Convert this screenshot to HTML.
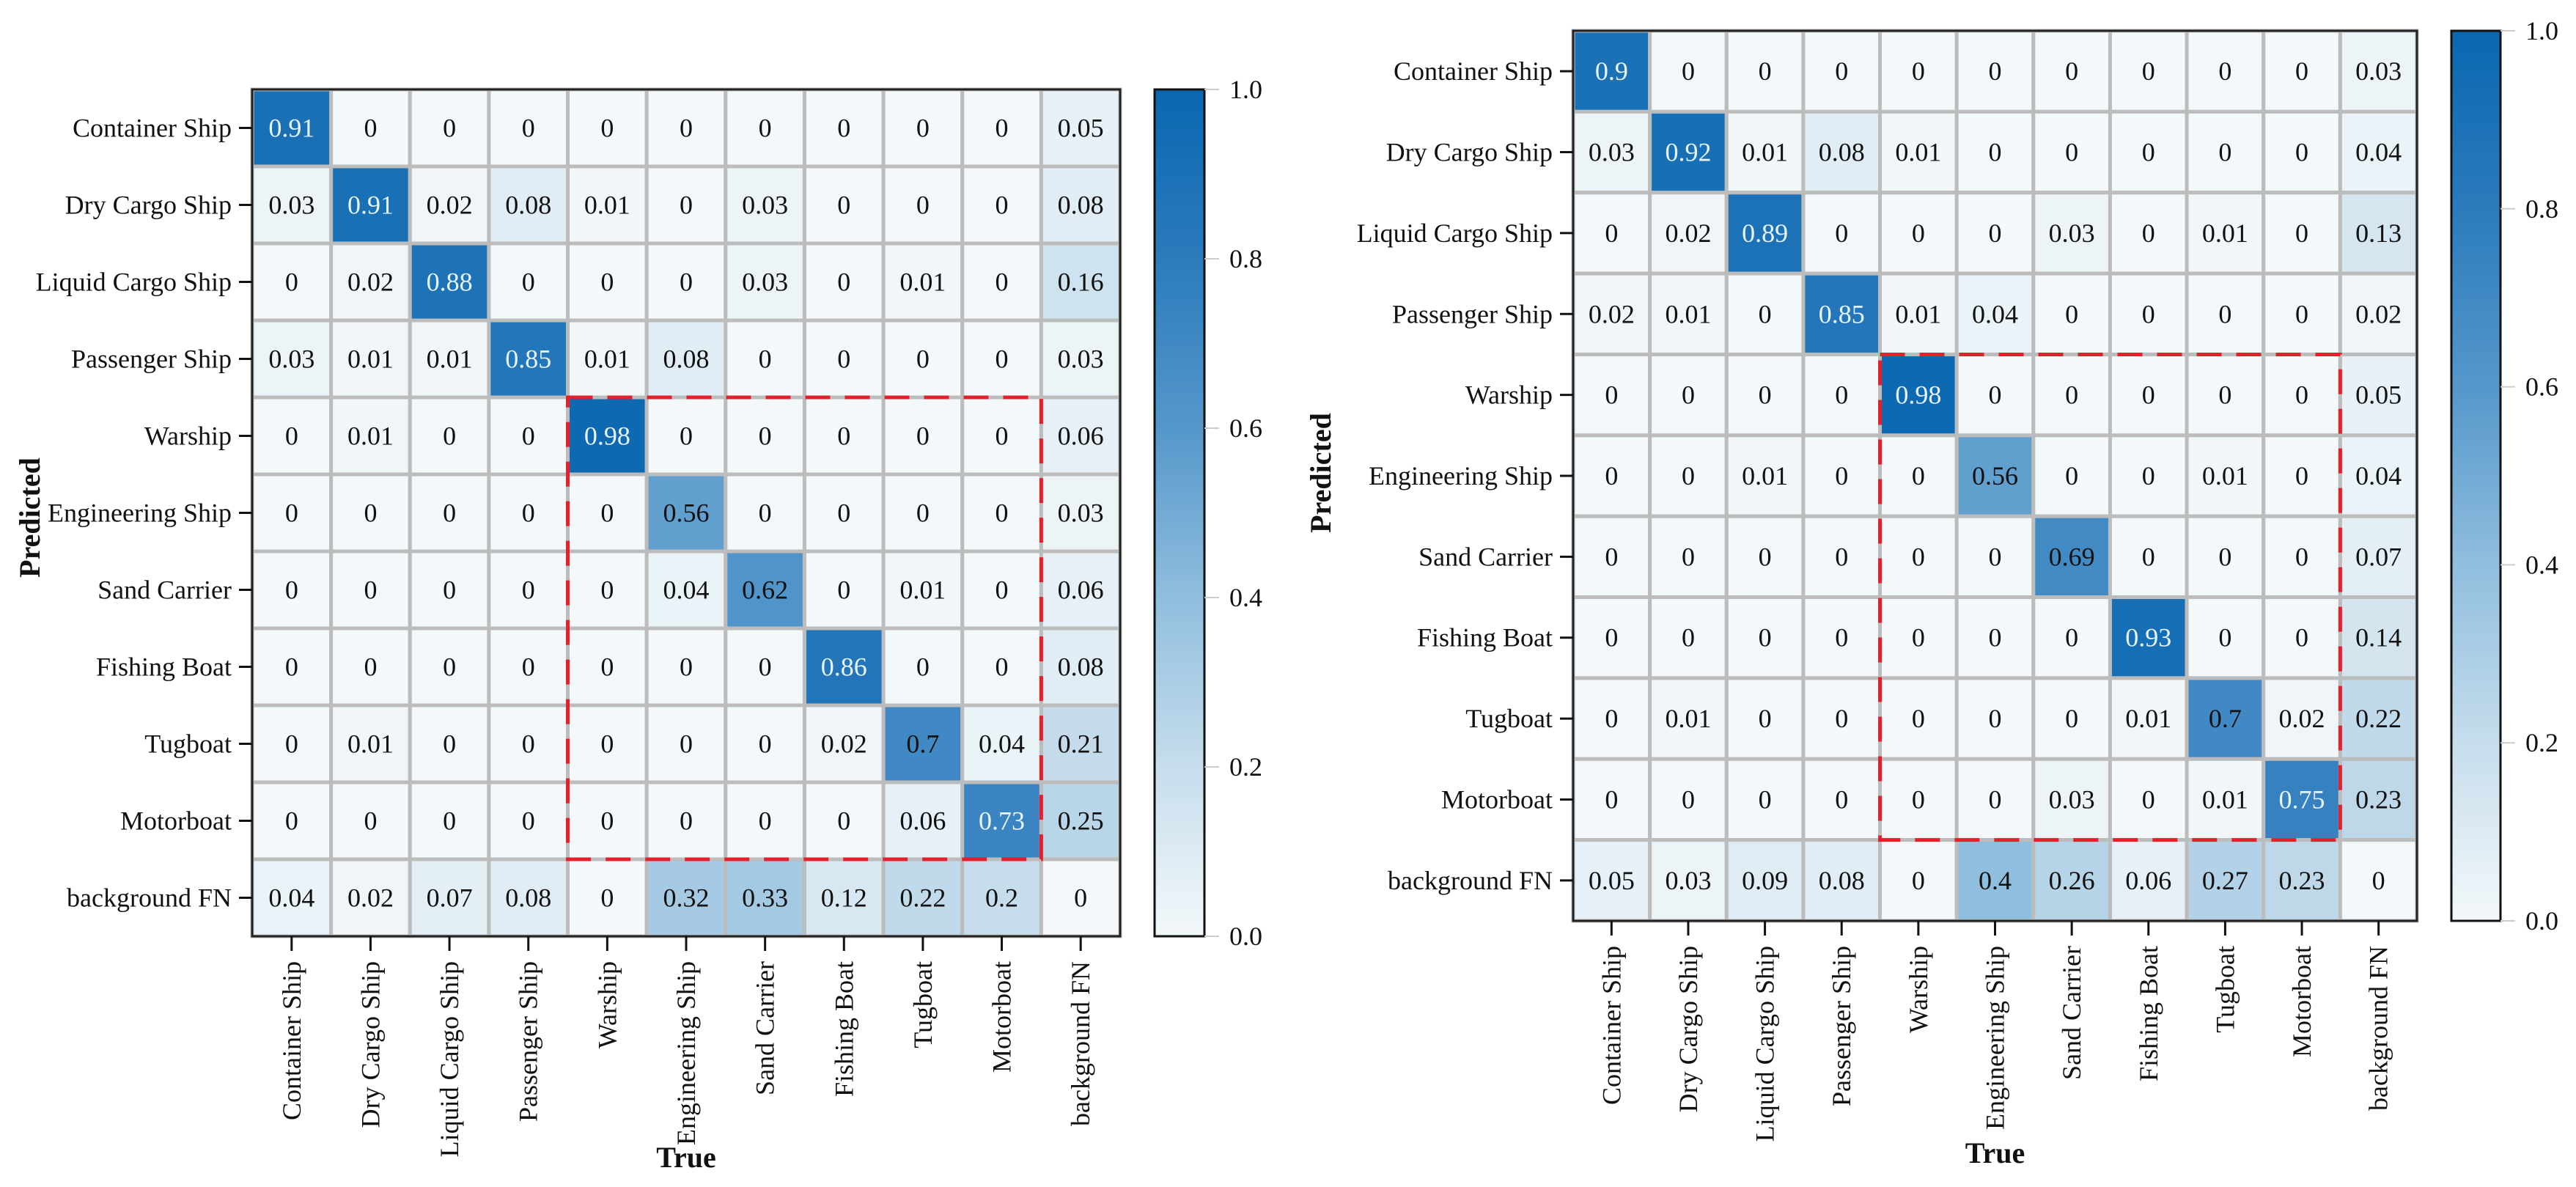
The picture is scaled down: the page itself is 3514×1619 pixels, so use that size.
<!DOCTYPE html>
<html><head><meta charset="utf-8"><style>
html,body{margin:0;padding:0;background:#fff;}
svg{display:block;font-family:"Liberation Serif",serif;}
</style></head><body>
<svg id="chart" width="3514" height="1619" viewBox="0 0 3514 1619" xmlns="http://www.w3.org/2000/svg">
<defs>
<linearGradient id="cbgrad" x1="0" y1="1" x2="0" y2="0">
<stop offset="0" stop-color="#f3f8fa"/><stop offset="0.2" stop-color="#c6ddec"/><stop offset="0.4" stop-color="#90bede"/><stop offset="0.6" stop-color="#5597cb"/><stop offset="0.8" stop-color="#2b7bbc"/><stop offset="1" stop-color="#0a67b0"/>
</linearGradient>
</defs>
</svg>
<script>
const classLabels = ["Container Ship","Dry Cargo Ship","Liquid Cargo Ship","Passenger Ship","Warship","Engineering Ship","Sand Carrier","Fishing Boat","Tugboat","Motorboat","background FN"];
const colorbarTicks = [0.0,0.2,0.4,0.6,0.8,1.0];
const leftMatrix = [
[0.91,0,0,0,0,0,0,0,0,0,0.05],
[0.03,0.91,0.02,0.08,0.01,0,0.03,0,0,0,0.08],
[0,0.02,0.88,0,0,0,0.03,0,0.01,0,0.16],
[0.03,0.01,0.01,0.85,0.01,0.08,0,0,0,0,0.03],
[0,0.01,0,0,0.98,0,0,0,0,0,0.06],
[0,0,0,0,0,0.56,0,0,0,0,0.03],
[0,0,0,0,0,0.04,0.62,0,0.01,0,0.06],
[0,0,0,0,0,0,0,0.86,0,0,0.08],
[0,0.01,0,0,0,0,0,0.02,0.7,0.04,0.21],
[0,0,0,0,0,0,0,0,0.06,0.73,0.25],
[0.04,0.02,0.07,0.08,0,0.32,0.33,0.12,0.22,0.2,0]
];
const rightMatrix = [
[0.9,0,0,0,0,0,0,0,0,0,0.03],
[0.03,0.92,0.01,0.08,0.01,0,0,0,0,0,0.04],
[0,0.02,0.89,0,0,0,0.03,0,0.01,0,0.13],
[0.02,0.01,0,0.85,0.01,0.04,0,0,0,0,0.02],
[0,0,0,0,0.98,0,0,0,0,0,0.05],
[0,0,0.01,0,0,0.56,0,0,0.01,0,0.04],
[0,0,0,0,0,0,0.69,0,0,0,0.07],
[0,0,0,0,0,0,0,0.93,0,0,0.14],
[0,0.01,0,0,0,0,0,0.01,0.7,0.02,0.22],
[0,0,0,0,0,0,0.03,0,0.01,0.75,0.23],
[0.05,0.03,0.09,0.08,0,0.4,0.26,0.06,0.27,0.23,0]
];
const highlightBox = [4,10];

const NS="http://www.w3.org/2000/svg";
const svg=document.getElementById('chart');
function mk(tag,attrs,parent){const e=document.createElementNS(NS,tag);for(const k in attrs)e.setAttribute(k,attrs[k]);(parent||svg).appendChild(e);return e;}
const stops=[[0,[243,248,250]],[0.2,[198,221,236]],[0.4,[144,190,222]],[0.6,[85,151,203]],[0.8,[43,123,188]],[1,[10,103,176]]];
function color(v){for(let i=1;i<stops.length;i++){if(v<=stops[i][0]){const a=stops[i-1],b=stops[i];const t=(v-a[0])/(b[0]-a[0]);const c=a[1].map((x,j)=>Math.round(x+(b[1][j]-x)*t));return `rgb(${c})`;}}return 'rgb(10,103,176)';}

function drawChart(cfg,matrix){
  const g=mk('g',{});
  
  
  const n=classLabels.length;
  const cw=(cfg.x1-cfg.x0)/n, ch=(cfg.y1-cfg.y0)/n;
  const xs=i=>cfg.x0+i*cw, ys=i=>cfg.y0+i*ch;
  for(let r=0;r<n;r++)for(let c=0;c<n;c++){
    const v=matrix[r][c];
    const rect=mk('rect',{x:xs(c),y:ys(r),width:cw,height:ch,fill:color(v),stroke:'#bcbcbc','stroke-width':5},g);
    
    
    const t=mk('text',{x:xs(c)+cw/2,y:ys(r)+ch/2+12,'text-anchor':'middle','font-size':36,fill:v>0.72?'#e8f4ff':'#111'},g);
    t.textContent=String(v);
    
    
  }
  const fr=mk('rect',{x:cfg.x0,y:cfg.y0,width:cfg.x1-cfg.x0,height:cfg.y1-cfg.y0,fill:'none',stroke:'#222','stroke-width':3},g);
  
  
  const hb=mk('rect',{x:xs(highlightBox[0]),y:ys(highlightBox[0]),width:xs(highlightBox[1])-xs(highlightBox[0]),height:ys(highlightBox[1])-ys(highlightBox[0]),fill:'none',stroke:'#e3202b','stroke-width':5,'stroke-dasharray':'34 20'},g);
  
  
  for(let r=0;r<n;r++){
    const yc=ys(r)+ch/2;
    mk('line',{x1:cfg.x0-18,x2:cfg.x0,y1:yc,y2:yc,stroke:'#111','stroke-width':3},g);
    const t=mk('text',{x:cfg.x0-28,y:yc+12,'text-anchor':'end','font-size':36,fill:'#111'},g);
    t.textContent=classLabels[r];
    
    
  }
  for(let c=0;c<n;c++){
    const xc=xs(c)+cw/2;
    mk('line',{x1:xc,x2:xc,y1:cfg.y1,y2:cfg.y1+20,stroke:'#111','stroke-width':3},g);
    const ty=cfg.y1+34;
    const t=mk('text',{x:xc+12,y:ty,'text-anchor':'end','font-size':36,fill:'#111',transform:`rotate(-90 ${xc+12} ${ty})`},g);
    t.textContent=classLabels[c];
    
    
  }
  const py=mk('text',{x:cfg.px,y:cfg.py,'text-anchor':'middle','font-size':40,'font-weight':'bold',fill:'#111',transform:`rotate(-90 ${cfg.px} ${cfg.py})`},g);
  py.textContent='Predicted';
  
  
  const tx=mk('text',{x:(cfg.x0+cfg.x1)/2,y:cfg.ty,'text-anchor':'middle','font-size':40,'font-weight':'bold',fill:'#111'},g);
  tx.textContent='True';
  
  
  const cb=mk('rect',{x:cfg.cbx0,y:cfg.y0,width:cfg.cbx1-cfg.cbx0,height:cfg.y1-cfg.y0,fill:'url(#cbgrad)',stroke:'#111','stroke-width':3},g);
  
  
  colorbarTicks.forEach(v=>{
    const y=cfg.y1-(cfg.y1-cfg.y0)*v;
    mk('line',{x1:cfg.cbx1,x2:cfg.cbx1+20,y1:y,y2:y,stroke:'#ccc','stroke-width':2},g);
    const t=mk('text',{x:cfg.cbx1+34,y:y+12,'font-size':36,fill:'#111'},g);
    t.textContent=v.toFixed(1);
    
    
  });
}
drawChart({name:'left-confusion-matrix',x0:344,x1:1528,y0:122,y1:1277,px:54,py:706,ty:1592,cbx0:1575,cbx1:1643},leftMatrix);
drawChart({name:'right-confusion-matrix',x0:2146,x1:3297,y0:42,y1:1256,px:1815,py:645,ty:1586,cbx0:3344,cbx1:3411},rightMatrix);
</script>
</body></html>
